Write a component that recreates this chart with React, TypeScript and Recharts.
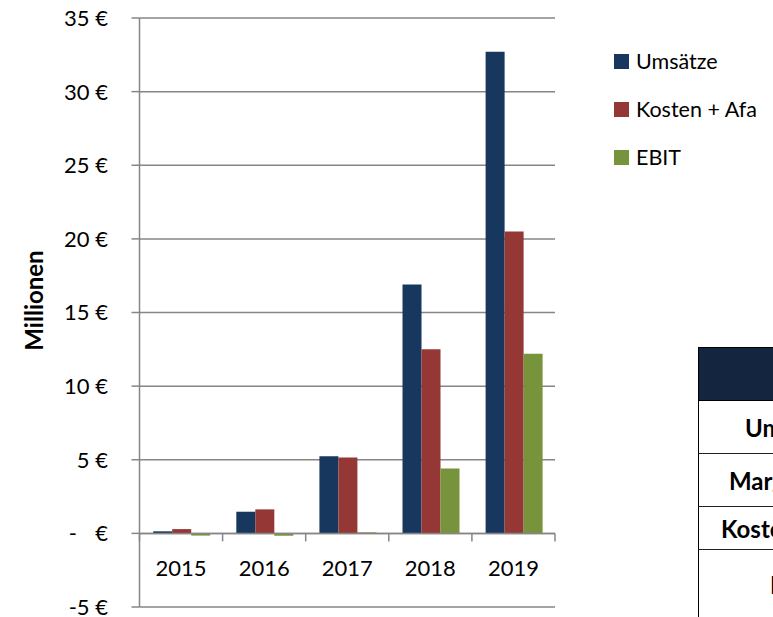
import React from 'react';
import { BarChart, Bar, XAxis, YAxis, CartesianGrid, ReferenceLine, Label } from 'recharts';

const years = ['2015', '2016', '2017', '2018', '2019'];
const umsaetze = [0.14, 1.47, 5.23, 16.9, 32.7];
const kosten = [0.29, 1.63, 5.16, 12.5, 20.5];
const ebit = [-0.15, -0.16, 0.07, 4.4, 12.2];
const yTicks = [-5, 0, 5, 10, 15, 20, 25, 30, 35];
const seriesNames = ['Umsätze', 'Kosten + Afa', 'EBIT'];
const colors = ['#17375E', '#953735', '#77933C'];
const tableRows = ['Umsatz', 'Marge', 'Kosten', 'EBIT'];

const data = years.map((y, i) => ({ year: y, u: umsaetze[i], k: kosten[i], e: ebit[i] }));

const W = 773;
const H = 617;
const M = { top: 18, right: 218, bottom: 9, left: 0 };
const X_AXIS_H = 1;
const Y_AXIS_W = 139.5;
const Y_MIN = -5;
const Y_MAX = 35;
const plotH = H - M.top - M.bottom - X_AXIS_H;
const plotW = W - M.left - M.right - Y_AXIS_W;
const zeroY = M.top + ((Y_MAX - 0) / (Y_MAX - Y_MIN)) * plotH;
const band = plotW / years.length;
const GRID = '#868686';
const FONT = 'Lato, "Open Sans", sans-serif';
const TICK_FS = 22;

const XTick = (props: any) => {
  const { x, payload, index } = props;
  const right = x + band / 2;
  const left = x - band / 2;
  return (
    <g>
      {index === 0 && <line x1={left} x2={left} y1={zeroY} y2={zeroY + 8} stroke={GRID} strokeWidth={1.5} />}
      <line x1={right} x2={right} y1={zeroY} y2={zeroY + 8} stroke={GRID} strokeWidth={1.5} />
      <text x={x} y={zeroY + 43} textAnchor="middle" fontSize={TICK_FS} fill="#000" fontFamily={FONT}>
        {payload.value}
      </text>
    </g>
  );
};

const YTick = (props: any) => {
  const { x, y, payload } = props;
  const v = payload.value;
  if (v === 0) {
    return (
      <g>
        <text x={x - 31} y={y} dy="0.36em" textAnchor="end" fontSize={TICK_FS} fill="#000" fontFamily={FONT}>-</text>
        <text x={x} y={y} dy="0.36em" textAnchor="end" fontSize={TICK_FS} fill="#000" fontFamily={FONT}>€</text>
      </g>
    );
  }
  return (
    <text x={x} y={y} dy="0.36em" textAnchor="end" fontSize={TICK_FS} fill="#000" fontFamily={FONT}>
      {`${v} €`}
    </text>
  );
};

const YTitle = (props: any) => {
  const { viewBox } = props;
  const cx = 33;
  const cy = viewBox.y + viewBox.height / 2 - 12;
  return (
    <text
      x={cx}
      y={cy}
      textAnchor="middle"
      dominantBaseline="central"
      transform={`rotate(-90 ${cx} ${cy})`}
      fontSize={24}
      fontWeight="bold"
      fill="#000"
      fontFamily={FONT}
    >
      Millionen
    </text>
  );
};

const rowTops = [401, 454, 507, 550];
const rowHeights = [53, 53, 43, 70];
const rowTextX = [744, 728, 720, 769];

export default function App() {
  return (
    <div style={{ position: 'absolute', left: 0, top: 0, width: W, height: H, overflow: 'hidden', background: '#fff', fontFamily: FONT }}>
      <BarChart
        width={W}
        height={H}
        data={data}
        margin={M}
        barCategoryGap="16.5%"
        barGap={0}
        style={{ position: 'absolute', left: 0, top: 0 }}
      >
        <CartesianGrid vertical={false} stroke={GRID} strokeWidth={1.5} />
        <YAxis
          width={Y_AXIS_W}
          domain={[Y_MIN, Y_MAX]}
          ticks={yTicks}
          interval={0}
          allowDataOverflow
          axisLine={{ stroke: GRID, strokeWidth: 1.5 }}
          tickLine={{ stroke: GRID, strokeWidth: 1.5 }}
          tickSize={8}
          tickMargin={23.5}
          tick={<YTick />}
        >
          <Label content={<YTitle />} />
        </YAxis>
        <XAxis
          dataKey="year"
          height={X_AXIS_H}
          axisLine={false}
          tickLine={false}
          interval={0}
          tick={<XTick />}
        />
        <ReferenceLine y={0} stroke={GRID} strokeWidth={1.5} />
        <Bar dataKey="u" name={seriesNames[0]} fill={colors[0]} isAnimationActive={false} />
        <Bar dataKey="k" name={seriesNames[1]} fill={colors[1]} isAnimationActive={false} />
        <Bar dataKey="e" name={seriesNames[2]} fill={colors[2]} isAnimationActive={false} />
      </BarChart>
      <div style={{ position: 'absolute', left: 614, top: 37, width: 160 }}>
        {seriesNames.map((n, i) => (
          <div key={n} style={{ display: 'flex', alignItems: 'center', height: 48 }}>
            <div style={{ width: 15, height: 15, background: colors[i], marginRight: 7, flexShrink: 0 }} />
            <span style={{ fontSize: 21.5, color: '#000', whiteSpace: 'nowrap' }}>{n}</span>
          </div>
        ))}
      </div>
      <div
        style={{
          position: 'absolute',
          left: 698,
          top: 347,
          width: 200,
          height: 54,
          background: '#14263f',
          border: '1px solid #000',
          boxSizing: 'border-box',
        }}
      />
      {tableRows.map((r, i) => (
        <div
          key={r}
          style={{
            position: 'absolute',
            left: 698,
            top: rowTops[i],
            width: 200,
            height: rowHeights[i],
            borderLeft: '1px solid #000',
            borderBottom: '1px solid #222',
            boxSizing: 'border-box',
            background: '#fff',
          }}
        >
          <span
            style={{
              position: 'absolute',
              left: rowTextX[i] - 698,
              top: 0,
              lineHeight: `${rowHeights[i]}px`,
              fontSize: 24,
              fontWeight: 'bold',
              color: '#000',
              whiteSpace: 'nowrap',
            }}
          >
            {r}
          </span>
        </div>
      ))}
    </div>
  );
}
